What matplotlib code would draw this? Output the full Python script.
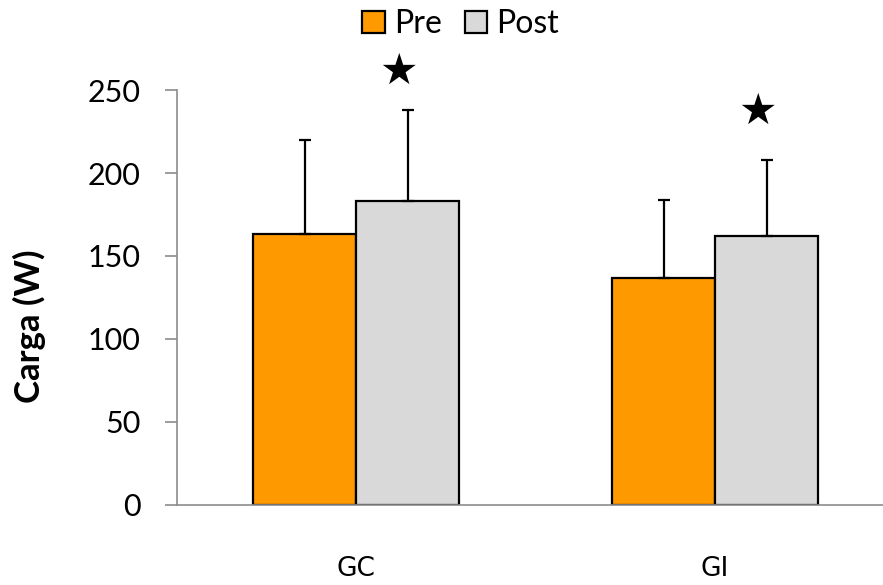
import numpy as np
import matplotlib
matplotlib.use("Agg")
import matplotlib.pyplot as plt

# ---------------------------------------------------------------------------
#  Data
# ---------------------------------------------------------------------------
groups = ["GC", "GI"]
pre_mean = [163, 137]
pre_sd = [57, 47]
post_mean = [183, 162]
post_sd = [55, 46]
star_y = [261, 237]   # significance star above each Post bar

orange = "#FF9900"
grey = "#D9D9D9"
axis_grey = "#8C8C8C"

plt.rcParams["font.family"] = ["Lato", "DejaVu Sans"]

fig = plt.figure(figsize=(8.83, 5.85), dpi=100)
# axis extends past the right edge in the original (cropped screenshot)
ax = fig.add_axes([0.2, 0.137, 0.813, 0.709])

x = np.arange(len(groups))
w = 0.287
err_kw = dict(ecolor="black", elinewidth=1.6, capsize=4.3, capthick=1.6)

ax.bar(x - w / 2, pre_mean, w, color=orange, edgecolor="black", linewidth=1.6,
       yerr=[np.zeros(len(pre_sd)), pre_sd], error_kw=err_kw, label="Pre", zorder=2)
ax.bar(x + w / 2, post_mean, w, color=grey, edgecolor="black", linewidth=1.6,
       yerr=[np.zeros(len(post_sd)), post_sd], error_kw=err_kw, label="Post", zorder=2)

for i, sy in enumerate(star_y):
    ax.text(x[i] + w / 2 - 0.025, sy, "\u2605", family="DejaVu Sans",
            fontsize=31, ha="center", va="center", clip_on=False)

ax.set_xlim(-0.5, 1.5)
ax.set_ylim(0, 250)
ax.set_yticks(np.arange(0, 251, 50))
ax.set_xticks(x)
ax.set_xticklabels(groups, family="DejaVu Sans", fontsize=19)
ax.tick_params(axis="x", length=0, pad=37)
ax.tick_params(axis="y", length=9, width=1.2, color=axis_grey, labelsize=22, pad=17)
ax.set_ylabel("Carga (W)", fontsize=25, fontweight="bold", labelpad=30)
ax.yaxis.label.set_y(0.43)

for side in ("top", "right"):
    ax.spines[side].set_visible(False)
for side in ("left", "bottom"):
    ax.spines[side].set_color(axis_grey)
    ax.spines[side].set_linewidth(1.2)

fig.legend(loc="upper center", bbox_to_anchor=(0.522, 1.033), ncol=2, frameon=False,
           fontsize=23, handlelength=0.7, handleheight=0.7, handletextpad=0.3,
           columnspacing=0.7)

fig.savefig("out.png", dpi=100)
